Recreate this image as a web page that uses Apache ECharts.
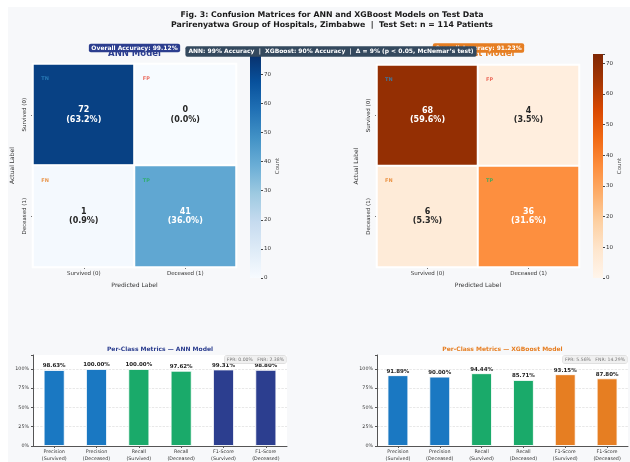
<!DOCTYPE html>
<html><head><meta charset="utf-8">
<script src="https://cdn.jsdelivr.net/npm/echarts@6/dist/echarts.min.js"></script>
<style>
html,body{margin:0;padding:0;background:#fff;}
#bg{position:absolute;left:8px;top:7px;width:622px;height:455px;background:#f7f8fa;}
#c{position:absolute;left:0;top:0;width:630px;height:462px;}
</style></head>
<body><div id="bg"></div><div id="c"></div>
<script>
// ---------- data ----------
const categories = ['Survived (0)', 'Deceased (1)'];
const cellTags = [['TN', 'FP'], ['FN', 'TP']];
const annMatrix = [[72, 0], [1, 41]];
const xgbMatrix = [[68, 4], [6, 36]];
const testN = 114;
const annScaleMax = 77;
const xgbScaleMax = 73;
const annAccuracy = 99.12;
const xgbAccuracy = 91.23;
const metricLabels = ['Precision\n(Survived)', 'Precision\n(Deceased)', 'Recall\n(Survived)', 'Recall\n(Deceased)', 'F1-Score\n(Survived)', 'F1-Score\n(Deceased)'];
const annMetrics = [98.63, 100.00, 100.00, 97.62, 99.31, 98.80];
const xgbMetrics = [91.89, 90.00, 94.44, 85.71, 93.15, 87.80];
const pctMax = 118;

// ---------- styles ----------
const FONT = 'DejaVu Sans';
const blues = ['#f7fbff','#deebf7','#c6dbef','#9ecae1','#6baed6','#4292c6','#2171b5','#08519c','#08306b'];
const oranges = ['#fff5eb','#fee6ce','#fdd0a2','#fdae6b','#fd8d3c','#f16913','#d94801','#a63603','#7f2704'];
const tagColors = {TN:'#2e86c1', FP:'#e74c3c', FN:'#e67e22', TP:'#27ae60'};
const navy = '#2c3e8f', orange = '#e67e22';
const barColorsAnn = ['#1a78c2','#1a78c2','#1aaa6a','#1aaa6a',navy,navy];
const barColorsXgb = ['#1a78c2','#1a78c2','#1aaa6a','#1aaa6a',orange,orange];

function heatData(m, max) {
  const out = [];
  m.forEach((row, r) => row.forEach((v, c) => {
    out.push({value: [c, r, v], label: {color: v / max > 0.4 ? '#ffffff' : '#262626'}});
  }));
  return out;
}
function tagData() {
  const out = [];
  cellTags.forEach((row, r) => row.forEach((t, c) => {
    out.push({value: [c, r], name: t, label: {color: tagColors[t]}});
  }));
  return out;
}
function gradient(stops) {
  return new echarts.graphic.LinearGradient(0, 0, 0, 1,
    stops.slice().reverse().map((c, i, a) => ({offset: i / (a.length - 1), color: c})));
}

function heatAxes(gi) {
  return {
    x: {type:'category', gridIndex: gi, data: categories, position:'bottom',
        axisLine:{show:false}, axisTick:{show:true, length:2, lineStyle:{color:'#444'}, alignWithLabel:true},
        axisLabel:{fontFamily:FONT, fontSize:5.5, color:'#333', margin:4},
        splitLine:{show:false},
        name:'Predicted Label', nameLocation:'middle', nameGap:15,
        nameTextStyle:{fontFamily:FONT, fontSize:6, color:'#333'}},
    y: {type:'category', gridIndex: gi, data: categories, inverse:true,
        axisLine:{show:false}, axisTick:{show:true, length:2, lineStyle:{color:'#444'}, alignWithLabel:true},
        axisLabel:{fontFamily:FONT, fontSize:5.5, color:'#333', rotate:90, margin:5},
        name:'Actual Label', nameLocation:'middle', nameGap:18,
        nameTextStyle:{fontFamily:FONT, fontSize:6, color:'#333'}}
  };
}
function cbAxes(gi, max) {
  return {
    x: {type:'category', gridIndex: gi, data:['c'], show:false},
    y: {type:'value', gridIndex: gi, min:0, max:max, interval:10, position:'right',
        axisLine:{show:false}, axisTick:{show:true, length:2, lineStyle:{color:'#444'}},
        splitLine:{show:false},
        axisLabel:{fontFamily:FONT, fontSize:5.5, color:'#333', margin:3,
                   formatter: v => (v % 10 === 0 ? String(v) : '')},
        name:'Count', nameLocation:'middle', nameGap:14, nameRotate:90,
        nameTextStyle:{fontFamily:FONT, fontSize:5.5, color:'#555'}}
  };
}
function barAxes(gi) {
  return {
    x: {type:'category', gridIndex: gi, data: metricLabels,
        axisLine:{lineStyle:{color:'#555', width:1}},
        axisTick:{show:true, length:2, alignWithLabel:true, lineStyle:{color:'#555'}},
        axisLabel:{fontFamily:FONT, fontSize:4.8, lineHeight:6.5, color:'#333', interval:0, margin:3}},
    y: {type:'value', gridIndex: gi, min:0, max:pctMax, interval:25,
        axisLine:{show:true, lineStyle:{color:'#555', width:1}},
        axisTick:{show:true, length:2, lineStyle:{color:'#555'}},
        splitLine:{show:true, showMaxLine:false, lineStyle:{color:'#d8d8d8', type:'dashed', width:0.6}},
        axisLabel:{fontFamily:FONT, fontSize:4.8, color:'#333', margin:4,
                   formatter: v => (v % 25 === 0 ? v + '%' : '')}}
  };
}

const hA = heatAxes(0), cA = cbAxes(1, annScaleMax), hX = heatAxes(2), cX = cbAxes(3, xgbScaleMax), bA = barAxes(4), bX = barAxes(5);

function heatSeries(xi, m, max) {
  return {type:'heatmap', xAxisIndex:xi, yAxisIndex:xi, data: heatData(m, max),
    itemStyle:{borderColor:'#ffffff', borderWidth:2},
    label:{show:true, fontFamily:FONT, fontSize:8, fontWeight:'bold', lineHeight:9.5,
      formatter: p => p.value[2] + '\n(' + (p.value[2] / testN * 100).toFixed(1) + '%)'},
    emphasis:{disabled:true}};
}
function tagSeries(xi) {
  return {type:'scatter', xAxisIndex:xi, yAxisIndex:xi, data: tagData(), symbol:'rect', symbolSize:1,
    itemStyle:{color:'rgba(0,0,0,0)'}, z:5,
    label:{show:true, position:[-42, -38], fontFamily:FONT, fontSize:5, fontWeight:'bold',
      formatter: p => p.name}};
}
function cbSeries(xi, max, stops) {
  return {type:'bar', xAxisIndex:xi, yAxisIndex:xi, data:[max], barWidth:'100%',
    itemStyle:{color: gradient(stops)}, silent:true};
}
function barSeries(xi, vals, cols) {
  return {type:'bar', xAxisIndex:xi, yAxisIndex:xi, barWidth:'50%',
    data: vals.map((v, i) => ({value:v, itemStyle:{color:cols[i]}})),
    itemStyle:{borderColor:'rgba(255,255,255,0.85)', borderWidth:1},
    label:{show:true, position:'top', distance:1, fontFamily:FONT, fontSize:5.5, fontWeight:'bold', color:'#222',
      formatter: p => p.value.toFixed(2) + '%'}};
}

function rates(m) {
  const fpr = m[0][1] / (m[0][0] + m[0][1]) * 100;
  const fnr = m[1][0] / (m[1][0] + m[1][1]) * 100;
  return 'FPR: ' + fpr.toFixed(2) + '%   FNR: ' + fnr.toFixed(2) + '%';
}

function txt(x, y, text, size, color, opts) {
  return Object.assign({type:'text', x:x, y:y, z:100,
    style: Object.assign({text:text, fontFamily:FONT, fontSize:size, fill:color, fontWeight:'bold',
      textAlign:'center', textVerticalAlign:'middle'}, (opts && opts.style) || {})},
    (opts && opts.el) || {});
}

const chart = echarts.init(document.getElementById('c'), null, {renderer:'canvas'});
chart.setOption({
  backgroundColor:'transparent',
  animation:false,
  grid:[
    {left:33, top:64, width:203, height:203},
    {left:250, top:54, width:11, height:224},
    {left:377, top:65, width:202, height:202},
    {left:593, top:54, width:10, height:224},
    {left:33, top:355, width:254, height:91, show:true, backgroundColor:'#ffffff', borderWidth:0},
    {left:377, top:355, width:251, height:91, show:true, backgroundColor:'#ffffff', borderWidth:0}
  ],
  xAxis:[hA.x, cA.x, hX.x, cX.x, bA.x, bX.x],
  yAxis:[hA.y, cA.y, hX.y, cX.y, bA.y, bX.y],
  visualMap:[
    {type:'continuous', show:false, seriesIndex:0, dimension:2, min:0, max:annScaleMax, inRange:{color:blues}},
    {type:'continuous', show:false, seriesIndex:3, dimension:2, min:0, max:xgbScaleMax, inRange:{color:oranges}}
  ],
  series:[
    heatSeries(0, annMatrix, annScaleMax),
    tagSeries(0),
    cbSeries(1, annScaleMax, blues),
    heatSeries(2, xgbMatrix, xgbScaleMax),
    tagSeries(2),
    cbSeries(3, xgbScaleMax, oranges),
    barSeries(4, annMetrics, barColorsAnn),
    barSeries(5, xgbMetrics, barColorsXgb)
  ],
  graphic:[
    txt(332, 15, 'Fig. 3: Confusion Matrices for ANN and XGBoost Models on Test Data', 7.8, '#1a1a1a'),
    txt(332, 25, 'Parirenyatwa Group of Hospitals, Zimbabwe  |  Test Set: n = ' + testN + ' Patients', 7.8, '#1a1a1a'),
    txt(134.5, 53.5, 'ANN Model', 8.5, navy, {el:{z:90}}),
    txt(478, 53.5, 'XGBoost Model', 8.5, orange, {el:{z:90}}),
    txt(134.5, 48, 'Overall Accuracy: ' + annAccuracy.toFixed(2) + '%', 6, '#ffffff',
      {el:{z:101}, style:{backgroundColor:navy, padding:[1.5,2.5,1,2.5], borderRadius:2}}),
    txt(478.5, 48, 'Overall Accuracy: ' + xgbAccuracy.toFixed(2) + '%', 6, '#ffffff',
      {el:{z:101}, style:{backgroundColor:orange, padding:[2,2.5,1.5,2.5], borderRadius:2}}),
    txt(331, 51.5, 'ANN: 99% Accuracy  |  XGBoost: 90% Accuracy  |  \u0394 = 9% (p < 0.05, McNemar\u2019s test)', 6, '#ffffff',
      {el:{z:105}, style:{backgroundColor:'#34495e', padding:[2.5,3,2,3], borderRadius:2}}),
    txt(160, 349, 'Per-Class Metrics \u2014 ANN Model', 6, navy),
    txt(502.5, 349, 'Per-Class Metrics \u2014 XGBoost Model', 6, orange),
    txt(286, 359.5, rates(annMatrix), 4.6, '#777',
      {style:{textAlign:'right', fontWeight:'normal', backgroundColor:'#f0f0f0', borderColor:'#cfcfcf', borderWidth:0.5, padding:[1.5,2,1,2], borderRadius:1.5}}),
    txt(627, 359.5, rates(xgbMatrix), 4.6, '#777',
      {style:{textAlign:'right', fontWeight:'normal', backgroundColor:'#f0f0f0', borderColor:'#cfcfcf', borderWidth:0.5, padding:[1.5,2,1,2], borderRadius:1.5}})
  ]
});
</script></body></html>
